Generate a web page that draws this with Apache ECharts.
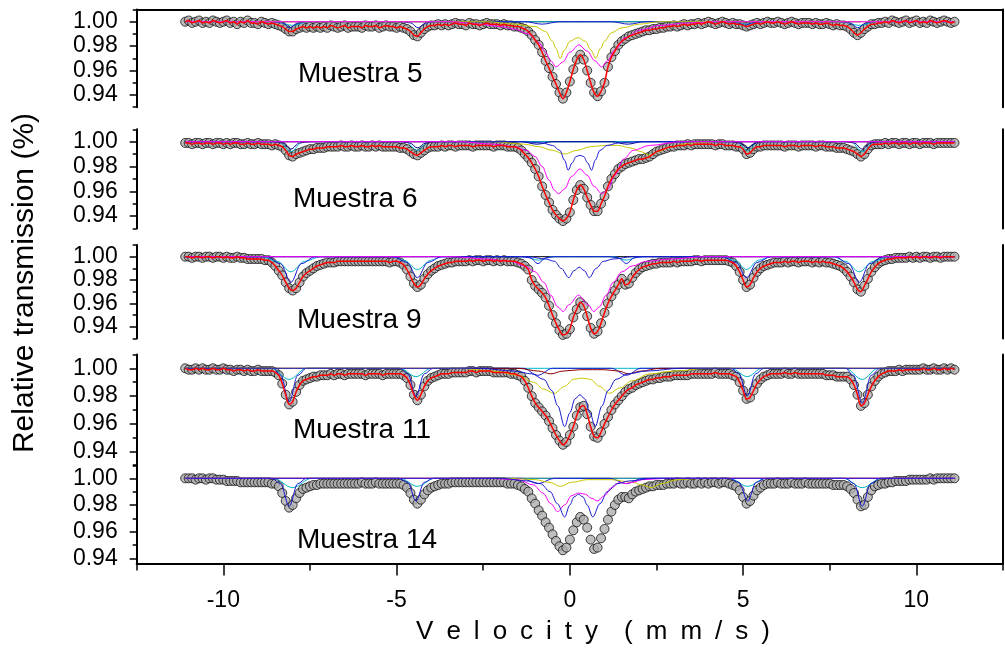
<!DOCTYPE html>
<html><head><meta charset="utf-8">
<script src="https://cdn.jsdelivr.net/npm/echarts@6/dist/echarts.min.js"></script>
<style>html,body{margin:0;padding:0;background:#fff}#c{width:1005px;height:654px}</style>
</head><body><div id="c"></div>
<script>
// Channel velocities: first channel and step (mm/s)
const V0 = -11.1, DV = 0.1;

// Measured absorption (1 - relative transmission) in thousandths, one value per channel
const absM5 = [
0,-1,1,0,-1,1,0,1,-1,0, 1,0,-1,1,0,2,0,1,-1,1, 1,2,0,1,2,1,2,3,4,6, 8,8,6,5,4,5,4,5,4,5,
4,5,3,4,5,4,3,5,4,4, 4,5,3,4,4,3,5,4,3,4, 4,5,4,5,6,8,11,12,9,6, 4,3,3,2,3,2,3,2,1,2,
2,3,1,2,2,3,2,1,2,2, 2,3,2,3,3,4,4,5,6,8, 11,15,19,25,32,38,45,51,58,63, 58,49,39,31,27,31,40,50,58,61,
57,50,37,29,24,19,16,14,12,11, 10,9,8,7,7,6,6,5,5,4, 4,3,4,3,2,3,2,2,1,2, 1,0,1,2,1,0,1,2,1,2,
2,3,4,3,2,1,2,1,0,1, 1,0,1,2,1,0,1,2,1,1, 1,2,1,2,2,1,2,3,2,3, 3,4,6,9,11,9,6,4,2,2,
1,1,0,1,-1,0,1,0,-1,1, 0,-1,1,0,1,-1,0,1,0,-1, 0,1,0];
const absM6 = [
1,1,2,1,1,2,1,1,2,1, 1,2,1,2,1,1,2,2,1,2, 2,1,2,2,2,3,2,3,4,7, 11,12,10,9,8,7,6,6,5,5,
5,4,4,4,4,3,4,4,3,4, 4,3,4,4,3,4,3,4,4,4, 4,4,5,5,6,8,10,11,9,7, 5,4,4,4,3,4,3,3,4,3,
3,3,3,4,3,3,3,3,3,4, 3,3,3,4,4,4,5,7,10,13, 17,22,28,36,43,49,55,59,62,64, 62,57,47,39,35,38,45,51,56,56,
50,44,36,30,26,22,20,18,17,16, 15,14,14,13,12,10,8,7,6,5, 4,4,3,3,3,2,3,2,2,2, 2,2,2,3,2,2,3,3,3,4,
4,6,10,9,6,4,4,3,3,3, 3,3,3,4,3,3,3,4,3,3, 3,3,4,3,3,4,4,4,5,5, 5,6,7,8,10,12,10,6,3,2,
2,2,1,2,1,1,2,1,1,2, 1,1,2,1,1,1,2,1,1,1, 1,1,1];
const absM9 = [
0,0,1,0,0,1,0,0,1,0, 0,1,0,1,1,0,1,1,2,2, 2,2,2,3,3,5,8,12,16,22, 27,29,27,22,17,14,12,10,8,7,
6,5,5,5,4,4,4,4,4,4, 4,4,4,4,4,4,4,4,4,5, 4,4,5,7,11,17,23,26,24,19, 15,12,10,8,7,6,5,5,4,4,
4,4,3,4,3,3,4,3,3,4, 3,4,3,4,4,4,5,6,8,11, 20,25,28,31,35,42,50,57,63,67, 66,62,52,45,39,42,51,61,66,64,
57,48,40,34,29,24,19,24,23,18, 14,11,9,8,7,6,6,5,5,5, 5,4,5,4,4,4,4,3,3,4, 3,3,3,3,3,3,3,4,5,8,
13,20,26,24,18,13,10,8,7,6, 5,5,5,4,5,4,4,5,4,4, 4,5,4,5,4,5,5,6,7,8, 10,13,17,22,28,30,25,19,13,9,
6,4,3,2,2,1,1,1,1,0, 1,0,1,0,0,1,0,0,1,0, 0,0,0];
const absM11 = [
0,1,1,0,1,0,1,1,0,1, 1,0,1,1,2,1,1,2,1,2, 2,1,2,2,2,2,3,5,11,19, 26,24,17,12,9,8,7,6,6,5,
5,5,4,5,4,4,5,4,4,4, 4,4,5,4,4,4,4,5,4,4, 4,4,4,5,7,12,19,23,19,13, 9,7,6,5,4,4,4,3,3,3,
3,3,2,2,3,2,2,2,2,3, 3,3,3,3,4,4,5,6,9,14, 20,25,28,31,34,38,43,48,52,55, 53,48,42,34,28,27,33,42,49,50,
46,40,35,30,26,23,20,17,15,14, 12,11,10,9,8,8,7,7,6,6, 6,5,5,5,5,5,4,4,4,4, 4,4,4,3,4,4,4,4,5,6,
10,16,22,21,16,11,8,6,5,4, 4,4,4,3,4,4,3,4,4,4, 4,4,4,4,4,5,5,5,6,6, 6,6,8,12,19,27,25,19,13,9,
6,4,3,2,2,2,1,2,1,1, 1,1,1,0,1,1,0,1,1,0, 1,0,1];
const absM14 = [
0,0,0,1,0,0,1,0,0,1, 1,1,2,2,2,2,3,3,3,3, 3,3,3,3,3,4,4,6,11,17, 22,20,15,11,8,7,6,5,5,4,
4,4,4,4,4,4,4,4,4,4, 4,3,4,4,4,3,4,4,4,4, 4,4,4,5,7,11,16,19,16,12, 9,7,6,5,4,4,4,3,3,3,
3,3,3,3,3,3,3,3,3,3, 3,3,3,4,4,4,5,6,8,10, 15,19,24,28,33,37,42,47,51,54, 52,46,39,33,29,31,37,46,53,52,
45,38,31,25,20,16,14,14,15,12, 10,9,8,7,6,6,5,5,5,4, 4,4,3,4,4,3,4,4,3,4, 3,4,3,3,4,3,3,4,5,6,
9,14,19,17,13,9,7,5,4,4, 4,3,4,4,4,3,4,4,4,3, 4,4,4,4,4,4,4,5,5,5, 5,6,8,11,16,21,20,14,9,6,
5,4,4,3,3,2,2,2,2,1, 1,1,1,1,1,0,1,0,0,0, 0,0,0];

// Fitted sub-spectra: [velocity mm/s, absorption in thousandths]
const m5Magenta = [[-11.1,0],[-3.4,0],[-2.6,2],[-2.0,4],[-1.6,6],[-1.2,10],[-0.9,17],[-0.7,25],[-0.55,32],[-0.4,37],[-0.2,33],[0,25],[0.26,19],[0.5,24],[0.72,32],[0.92,37],[1.08,32],[1.3,23],[1.6,13],[2.0,7],[2.6,3],[3.4,1],[4.2,0],[11.1,0]];
const m5Yellow = [[-11.1,0],[-2.4,0],[-1.6,2],[-1.0,4],[-0.7,8],[-0.5,16],[-0.4,22],[-0.28,30],[-0.15,23],[0,16],[0.23,13],[0.45,16],[0.6,23],[0.75,30],[0.88,22],[1.0,16],[1.2,9],[1.5,5],[2.0,2],[2.6,0],[11.1,0]];
const m5Sext = [[-11.1,0],[-8.6,0],[-8.3,1],[-8.08,5],[-7.85,1],[-7.6,0],[-4.85,0],[-4.6,1],[-4.38,5],[-4.15,1],[-3.9,0],[-1.3,0],[-0.8,2],[-0.3,0],[1.2,0],[1.7,2],[2.2,0],[4.6,0],[4.85,1],[5.05,3],[5.25,1],[5.5,0],[7.8,0],[8.08,1],[8.31,5],[8.55,1],[8.8,0],[11.1,0]];
const m5Cyan = [[-11.1,0],[-8.5,0],[-8.0,3],[-7.5,0],[4.6,0],[5.1,2],[5.6,0],[7.85,0],[8.35,3],[8.85,0],[11.1,0]];
const m5Flat = [[-8.3,0],[8.4,0]];

const m6Magenta = [[-11.1,0],[-3.2,0],[-2.2,2],[-1.6,4],[-1.25,7],[-1.0,12],[-0.8,20],[-0.6,31],[-0.45,39],[-0.33,42],[-0.15,38],[0.05,28],[0.29,22],[0.5,27],[0.7,36],[0.92,42],[1.1,38],[1.3,27],[1.55,14],[1.83,7],[2.3,3],[3.2,0],[11.1,0]];
const m6Blue = [[-11.1,0],[-1.4,0],[-0.8,1],[-0.5,3],[-0.29,7],[-0.15,15],[-0.05,23],[0.07,17],[0.18,12],[0.29,11],[0.4,12],[0.51,17],[0.63,23],[0.73,15],[0.87,7],[1.08,3],[1.4,1],[2.0,0],[11.1,0]];
const m6Yellow = [[-11.1,0],[-2.2,0],[-1.3,2],[-0.9,4],[-0.5,7],[-0.15,10],[0.2,7],[0.6,4],[1.0,3],[1.4,3],[1.75,5],[2.05,8],[2.3,11],[2.55,8],[2.9,4],[3.5,1],[4.4,0],[11.1,0]];
const m6Cyan = [[-11.1,0],[-8.4,0],[-8.05,8],[-7.7,0],[-4.75,0],[-4.4,7],[-4.05,0],[4.8,0],[5.13,7],[5.45,0],[8.1,0],[8.44,8],[8.8,0],[11.1,0]];
const m6Sext = [[-11.1,0],[-8.6,0],[-8.3,1],[-8.05,6],[-7.8,1],[-7.5,0],[-4.9,0],[-4.62,1],[-4.4,5],[-4.15,1],[-3.9,0],[-1.4,0],[-0.95,2],[-0.5,0],[1.2,0],[1.65,2],[2.1,0],[4.65,0],[4.9,1],[5.13,5],[5.38,1],[5.6,0],[7.95,0],[8.2,1],[8.44,6],[8.68,1],[8.95,0],[11.1,0]];
const m6Flat = [[-11.1,0],[11.1,0]];

const m9Magenta = [[-11.1,0],[-3.4,0],[-2.4,2],[-1.7,4],[-1.3,8],[-1.0,13],[-0.75,22],[-0.55,33],[-0.35,43],[-0.19,47],[-0.02,41],[0.25,33],[0.52,41],[0.69,47],[0.85,43],[1.05,33],[1.25,22],[1.5,13],[1.8,8],[2.2,4],[2.9,2],[3.9,0],[11.1,0]];
const m9Blue = [[-11.1,0],[-1.2,0],[-0.7,2],[-0.44,4],[-0.25,10],[-0.03,18],[0.12,12],[0.27,9],[0.42,12],[0.56,18],[0.76,10],[0.97,4],[1.25,2],[1.8,0],[11.1,0]];
const m9Sext = [[-11.1,0],[-8.75,0],[-8.35,6],[-8.05,22],[-7.75,6],[-7.35,0],[-5.1,0],[-4.7,5],[-4.4,18],[-4.1,5],[-3.7,0],[-1.4,0],[-1.15,1],[-0.92,6],[-0.7,1],[-0.45,0],[1.15,0],[1.4,1],[1.63,6],[1.86,1],[2.1,0],[4.4,0],[4.8,5],[5.1,18],[5.4,5],[5.8,0],[7.65,0],[8.05,6],[8.35,22],[8.65,6],[9.05,0],[11.1,0]];
const m9Cyan = [[-11.1,0],[-8.9,0],[-8.45,4],[-8.05,13],[-7.65,4],[-7.2,0],[-5.1,0],[-4.8,3],[-4.4,11],[-4.0,3],[-3.7,0],[-1.3,0],[-0.9,3],[-0.5,0],[1.25,0],[1.63,3],[2.0,0],[4.4,0],[4.75,3],[5.1,11],[5.45,3],[5.8,0],[7.6,0],[7.95,4],[8.35,13],[8.75,4],[9.2,0],[11.1,0]];
const m9Flat = [[-11.1,0],[11.1,0]];

const m11Blue = [[-11.1,0],[-2.6,0],[-1.6,2],[-1.1,4],[-0.75,8],[-0.52,16],[-0.35,27],[-0.15,42],[0.0,32],[0.15,22],[0.29,19],[0.43,22],[0.58,32],[0.73,42],[0.93,27],[1.1,16],[1.33,8],[1.68,4],[2.2,2],[3.2,0],[11.1,0]];
const m11Yellow = [[-11.1,0],[-3.2,0],[-2.2,2],[-1.5,5],[-1.05,10],[-0.75,15],[-0.45,18],[-0.15,13],[0.1,8],[0.35,7],[0.6,8],[0.85,13],[1.15,18],[1.45,14],[1.8,9],[2.3,4],[3.0,2],[4.0,0],[11.1,0]];
const m11Maroon = [[-11.1,0],[-1.5,0],[-0.9,2],[-0.55,4],[-0.2,2],[0.3,1],[1.0,1],[1.4,2],[1.7,4],[2.05,2],[2.6,0],[11.1,0]];
const m11Sext = [[-11.1,0],[-8.55,0],[-8.35,5],[-8.1,24],[-7.85,5],[-7.6,0],[-4.9,0],[-4.68,4],[-4.44,20],[-4.2,4],[-3.95,0],[-1.35,0],[-0.92,5],[-0.5,0],[1.2,0],[1.63,5],[2.05,0],[4.65,0],[4.88,4],[5.12,20],[5.36,4],[5.6,0],[7.95,0],[8.18,5],[8.44,25],[8.7,5],[8.95,0],[11.1,0]];
const m11Cyan = [[-11.1,0],[-8.6,0],[-8.1,8],[-7.6,0],[-4.9,0],[-4.44,6],[-4.0,0],[4.65,0],[5.12,6],[5.55,0],[7.95,0],[8.44,8],[8.9,0],[11.1,0]];

const m14Blue = [[-11.1,0],[-2.0,0],[-1.2,2],[-0.85,4],[-0.57,10],[-0.36,19],[-0.15,29],[0.0,20],[0.12,14],[0.25,12],[0.38,14],[0.5,20],[0.66,29],[0.87,19],[1.08,10],[1.36,4],[1.7,2],[2.4,0],[11.1,0]];
const m14Magenta = [[-11.1,0],[-2.4,0],[-1.5,1],[-1.05,5],[-0.78,11],[-0.55,19],[-0.35,25],[-0.15,20],[0.05,13],[0.25,11],[0.45,12],[0.62,15],[0.8,17],[1.0,13],[1.2,7],[1.45,3],[1.62,4],[1.8,3],[2.1,1],[2.8,0],[11.1,0]];
const m14Yellow = [[-11.1,0],[-1.8,0],[-1.0,1],[-0.6,3],[-0.27,6],[0.05,3],[0.5,1],[1.2,1],[1.8,3],[2.1,5],[2.35,7],[2.65,4],[3.1,1],[3.8,0],[11.1,0]];
const m14Sext = [[-11.1,0],[-8.6,0],[-8.35,4],[-8.1,21],[-7.85,4],[-7.6,0],[-4.95,0],[-4.68,3],[-4.44,17],[-4.2,3],[-3.95,0],[-1.4,0],[-0.92,4],[-0.45,0],[1.15,0],[1.63,4],[2.1,0],[4.6,0],[4.88,3],[5.13,17],[5.38,3],[5.65,0],[7.95,0],[8.2,4],[8.44,21],[8.68,4],[8.95,0],[11.1,0]];
const m14Cyan = [[-11.1,0],[-8.55,0],[-8.0,7],[-7.45,0],[-4.9,0],[-4.4,6],[-3.9,0],[4.6,0],[5.13,6],[5.65,0],[7.9,0],[8.44,7],[9.0,0],[11.1,0]];
const m14Flat = [[-11.1,0],[11.1,0]];

// Tick values and texts
const yMajor = [0.94, 0.96, 0.98, 1.00];
const yMinor = [0.93, 0.95, 0.97, 0.99, 1.01];
const xMajor = [-10, -5, 0, 5, 10];
const xMinor = [-12.5, -7.5, -2.5, 2.5, 7.5, 12.5];
const sampleNames = ['Muestra 5', 'Muestra 6', 'Muestra 9', 'Muestra 11', 'Muestra 14'];
const yTitle = 'Relative transmission (%)';
const SP = '\u2002';
const xTitle = 'Velocity'.split('').join(SP) + SP + SP + '(mm/s)'.split('').join(SP);

const FONT = '"Liberation Sans", Arial, Helvetica, sans-serif';
const C = {mag:'#ff00ff', yel:'#c8c800', blue:'#1a1ad0', navy:'#000090', cyan:'#00b4c8', red:'#ff0000', maroon:'#8b0000', black:'#000000'};

const panels = [
  {abs: absM5, fit: true, comps: [[m5Flat,C.black],[m5Cyan,C.cyan],[m5Sext,C.blue],[m5Yellow,C.yel],[m5Magenta,C.mag]]},
  {abs: absM6, fit: true, comps: [[m6Flat,C.navy],[m6Cyan,C.cyan],[m6Sext,C.navy],[m6Yellow,C.yel],[m6Blue,C.blue],[m6Magenta,C.mag]]},
  {abs: absM9, fit: true, comps: [[m9Flat,C.black],[m9Cyan,C.cyan],[m9Sext,C.blue],[m9Blue,C.blue],[m9Magenta,C.mag]]},
  {abs: absM11, fit: true, comps: [[m11Cyan,C.cyan],[m11Sext,C.blue],[m11Maroon,C.maroon],[m11Yellow,C.yel],[m11Blue,C.blue]]},
  {abs: absM14, fit: false, comps: [[m14Flat,C.maroon],[m14Cyan,C.cyan],[m14Sext,C.blue],[m14Yellow,C.yel],[m14Magenta,C.mag],[m14Blue,C.blue]]}
];

// Layout of the stacked panels (pixels) and y ranges
const boxes = [
  {top: 9.5, height: 97.7, min: 0.93},
  {top: 129.3, height: 99.2, min: 0.93},
  {top: 245.0, height: 93.4, min: 0.93},
  {top: 354.4, height: 111.2, min: 0.93},
  {top: 465.0, height: 98.6, min: 0.936}
];
const labelPos = [[298,74],[293,199],[297,320],[293,430],[297,540]];

function spectrum(abs) {
  return abs.map((a, i) => [Math.round((V0 + DV * i) * 10) / 10, +(1 - a / 1000).toFixed(4)]);
}
function curve(pairs) { return pairs.map(p => [p[0], +(1 - p[1] / 1000).toFixed(4)]); }

const grid = [], xAxis = [], yAxis = [], series = [];
const axLine = {show: true, onZero: false, lineStyle: {color: '#000', width: 2}};

panels.forEach((p, g) => {
  const b = boxes[g];
  grid.push({left: 136.7, right: 2, top: b.top, height: b.height});
  const xi = xAxis.length;
  const xBase = {type: 'value', gridIndex: g, min: -12.5, max: 12.5, splitLine: {show: false}};
  if (g === 0) {
    xAxis.push(Object.assign({}, xBase, {position: 'top', axisLine: axLine, axisTick: {show: false}, axisLabel: {show: false}}));
  } else if (g === 4) {
    xAxis.push(Object.assign({}, xBase, {position: 'bottom', axisLine: axLine,
      axisTick: {show: true, length: 12, customValues: xMajor, lineStyle: {color: '#000', width: 1.5}},
      axisLabel: {show: true, customValues: xMajor, margin: 26, fontSize: 23, color: '#000', fontFamily: FONT, formatter: v => String(v)}}));
    xAxis.push(Object.assign({}, xBase, {position: 'bottom', axisLine: {show: false, onZero: false},
      axisTick: {show: true, length: 7, customValues: xMinor, lineStyle: {color: '#000', width: 1.5}},
      axisLabel: {show: false}}));
  } else {
    xAxis.push(Object.assign({}, xBase, {show: false, axisLine: {show: false, onZero: false}}));
  }
  const yi = yAxis.length;
  const yBase = {type: 'value', gridIndex: g, min: b.min, max: 1.01, splitLine: {show: false}};
  yAxis.push(Object.assign({}, yBase, {position: 'left', axisLine: axLine,
    axisTick: {show: true, length: 7, customValues: yMajor, lineStyle: {color: '#000', width: 1.5}},
    axisLabel: {show: true, customValues: yMajor, margin: 19, fontSize: 23, color: '#000', fontFamily: FONT, formatter: v => v.toFixed(2)}}));
  yAxis.push(Object.assign({}, yBase, {position: 'left', axisLine: {show: false, onZero: false},
    axisTick: {show: true, length: 4, customValues: yMinor, lineStyle: {color: '#000', width: 1.5}},
    axisLabel: {show: false}}));
  yAxis.push(Object.assign({}, yBase, {position: 'right', axisLine: axLine, axisTick: {show: false}, axisLabel: {show: false}}));

  series.push({type: 'scatter', xAxisIndex: xi, yAxisIndex: yi, data: spectrum(p.abs), symbol: 'circle', symbolSize: 9,
    itemStyle: {color: '#aeaeae', borderColor: '#111111', borderWidth: 1}, z: 2, silent: true});
  p.comps.forEach(([pts, col]) => {
    series.push({type: 'line', xAxisIndex: xi, yAxisIndex: yi, data: curve(pts), showSymbol: false, symbol: 'none',
      smooth: 0.35, smoothMonotone: 'x', lineStyle: {color: col, width: 1}, z: 3, silent: true});
  });
  if (p.fit) {
    series.push({type: 'line', xAxisIndex: xi, yAxisIndex: yi, data: spectrum(p.abs), showSymbol: false, symbol: 'none',
      smooth: 0.3, lineStyle: {color: C.red, width: 1.5}, z: 4, silent: true});
  }
});

const graphic = sampleNames.map((t, i) => ({type: 'text', x: labelPos[i][0], y: labelPos[i][1],
  style: {text: t, font: '28px ' + FONT, fill: '#000', textAlign: 'left', textVerticalAlign: 'middle'}}));
graphic.push({type: 'text', x: 25, y: 283, rotation: Math.PI / 2,
  style: {text: yTitle, font: '30px ' + FONT, fill: '#000', textAlign: 'center', textVerticalAlign: 'middle'}});
graphic.push({type: 'text', x: 593, y: 632,
  style: {text: xTitle, font: '26px ' + FONT, fill: '#000', textAlign: 'center', textVerticalAlign: 'middle'}});

const chart = echarts.init(document.getElementById('c'), null, {renderer: 'canvas'});
chart.setOption({animation: false, backgroundColor: '#fff', grid, xAxis, yAxis, series, graphic});
</script></body></html>
